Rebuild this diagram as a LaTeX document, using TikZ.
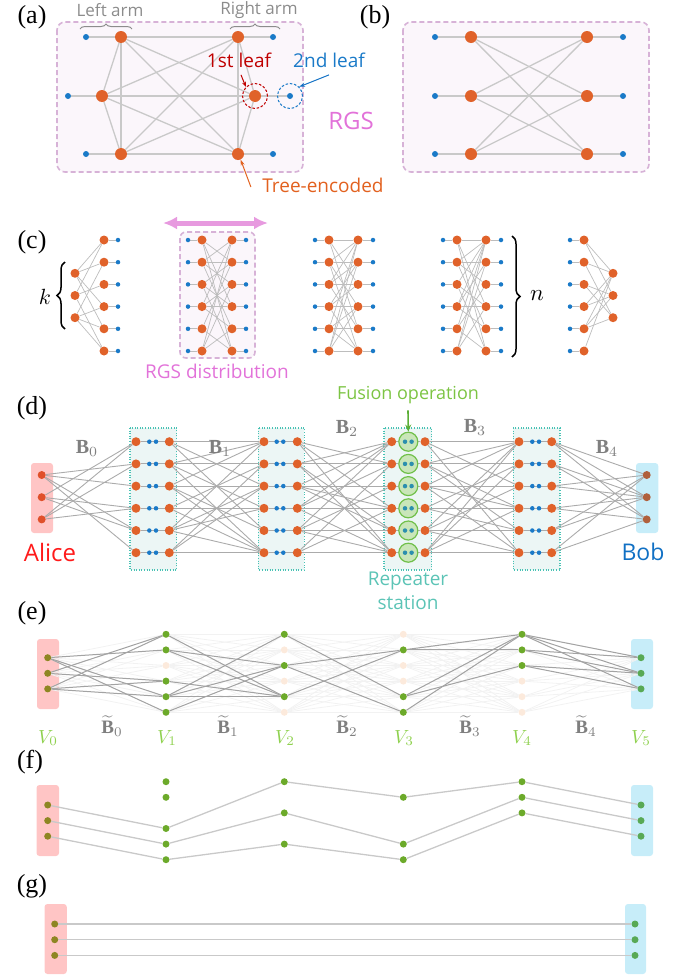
\documentclass[tikz,border=0pt]{standalone}
\usepackage{fontspec}
\setmainfont{Liberation Serif}
\newfontfamily\sansf{Open Sans}
\usetikzlibrary{arrows.meta,decorations.pathreplacing}
\pgfdeclarelayer{bg}
\pgfdeclarelayer{edges}
\pgfsetlayers{bg,edges,main}
\definecolor{cOr}{HTML}{E0622A}
\definecolor{cBl}{HTML}{1A7AC8}
\definecolor{cEa}{HTML}{C9C9C9}
\definecolor{cEc}{HTML}{BDBDBD}
\definecolor{cEd}{HTML}{ABABAB}
\definecolor{cEe}{HTML}{A3A3A3}
\definecolor{cRgsB}{HTML}{D7B2D7}
\definecolor{cRgsF}{HTML}{FBF6FB}
\definecolor{cPinkT}{HTML}{E272D9}
\definecolor{cPinkA}{HTML}{E79ADF}
\definecolor{cRedA}{HTML}{C00000}
\definecolor{cTree}{HTML}{E2611F}
\definecolor{cGray}{HTML}{8C8C8C}
\definecolor{cSt}{HTML}{48C2B4}
\definecolor{cStF}{HTML}{ECF6F5}
\definecolor{cFusF}{HTML}{C9E6B9}
\definecolor{cFusD}{HTML}{70C04A}
\definecolor{cFusT}{HTML}{7CC443}
\definecolor{cFusA}{HTML}{5AAE35}
\definecolor{cRep}{HTML}{5CC4B6}
\definecolor{cTeal}{HTML}{2C8FAE}
\definecolor{cAliceF}{HTML}{FFC5C5}
\definecolor{cBobF}{HTML}{C7EDF9}
\definecolor{cAliceT}{HTML}{FF1A1A}
\definecolor{cBobT}{HTML}{1070C4}
\definecolor{cAd}{HTML}{E0502A}
\definecolor{cBd}{HTML}{B0603C}
\definecolor{cGn}{HTML}{6CAA2A}
\definecolor{cFd}{HTML}{FCEADC}
\definecolor{cAe}{HTML}{8E8622}
\definecolor{cBe}{HTML}{58A955}
\definecolor{cV}{HTML}{8FD14F}
\definecolor{cBg}{HTML}{7F7F7F}
\newcommand\myfs[1]{\fontsize{#1}{#1}\selectfont}
\begin{document}
\begin{tikzpicture}[x=1pt,y=-1pt,
  orn/.style={circle,fill=cOr,inner sep=0pt,minimum size=#1},orn/.default=12pt,
  bln/.style={circle,fill=cBl,inner sep=0pt,minimum size=#1},bln/.default=6pt,
  tln/.style={circle,fill=cTeal,inner sep=0pt,minimum size=4.5pt},
  gnn/.style={circle,fill=cGn,inner sep=0pt,minimum size=7pt},
  fdn/.style={circle,fill=cFd,inner sep=0pt,minimum size=7pt},
  aen/.style={circle,fill=cAe,inner sep=0pt,minimum size=7pt},
  ben/.style={circle,fill=cBe,inner sep=0pt,minimum size=7pt},
  adn/.style={circle,fill=cAd,inner sep=0pt,minimum size=8pt},
  bdn/.style={circle,fill=cBd,inner sep=0pt,minimum size=8pt},
  fus/.style={circle,fill=cFusF,draw=cFusD,line width=1.2pt,inner sep=0pt,minimum size=19pt},
  ea/.style={draw=cEa,line width=1.3pt},
  ec/.style={draw=cEc,line width=0.7pt},
  ed/.style={draw=cEd,line width=0.9pt},
  ee/.style={draw=cEe,line width=1pt},
  ef/.style={draw=black!5,line width=0.8pt},
  rgsbox/.style={draw=cRgsB,dash pattern=on 5pt off 3pt,line width=1.6pt,fill=cRgsF,rounded corners=8pt},
  stbox/.style={draw=cSt,dash pattern=on 1pt off 1.6pt,line width=1.3pt,fill=cStF},
  plbl/.style={font=\myfs{26}},
  stxt/.style={font=\sansf\myfs{#1}},
  mtxt/.style={font=\myfs{10},inner sep=1pt},
  gbrace/.style={decorate,decoration={brace,amplitude=5pt},draw=cGray,line width=1pt},
  kbrace/.style={decorate,decoration={brace,amplitude=8pt},draw=black,line width=1.5pt}
]
\useasboundingbox (0,0) rectangle (696,980);

% ---------------- panel labels
\node[plbl] (la) at (32,17) {(a)};
\node[plbl] (lb) at (375,17) {(b)};
\node[plbl] (lc) at (32,242) {(c)};
\node[plbl] (ld) at (32,408) {(d)};
\node[plbl] (le) at (32,613) {(e)};
\node[plbl] (lf) at (30,762) {(f)};
\node[plbl] (lg) at (32,886) {(g)};

% ---------------- panel (a)
\begin{pgfonlayer}{bg}
\draw[rgsbox] (57,22) rectangle (303,172);
\draw[rgsbox] (403,22) rectangle (649,172);
\end{pgfonlayer}
\foreach \n/\x/\y in {a1/121/37,a2/102/96,a3/121/154,a4/238/37,a5/255/96,a6/238/154}
  \node[orn] (\n) at (\x,\y) {};
\foreach \n/\x/\y in {al1/86/37,al2/68/96,al3/86/154,ar1/273/37,ar2/290/96,ar3/273/154}
  \node[bln] (\n) at (\x,\y) {};
\begin{pgfonlayer}{edges}
\foreach \u/\v in {a1/a2,a1/a3,a1/a4,a1/a5,a1/a6,a2/a3,a2/a4,a2/a5,a2/a6,a3/a4,a3/a5,a3/a6,a4/a5,a4/a6,a5/a6,a1/al1,a2/al2,a3/al3,a4/ar1,a5/ar2,a6/ar3}
  \draw[ea] (\u) -- (\v);
\end{pgfonlayer}
\node[circle,draw=cRedA,dash pattern=on 2.5pt off 1.8pt,line width=1pt,minimum size=25pt,inner sep=0pt] (c1) at (a5) {};
\node[circle,draw=cBl,dash pattern=on 2.5pt off 1.8pt,line width=1pt,minimum size=25pt,inner sep=0pt] (c2) at (ar2) {};
\node[stxt=17,text=cGray] (tla) at (110,10) {Left arm};
\node[stxt=17,text=cGray] (tra) at (259,10) {Right arm};
\draw[gbrace] (80,29) -- (132,29);
\draw[gbrace] (230,29) -- (280,29);
\node[stxt=19,text=cRedA] (t1) at (239,60) {1st leaf};
\node[stxt=19,text=cBl] (t2) at (329,60) {2nd leaf};
\node[stxt=24,text=cPinkT] (trgs) at (351,121) {RGS};
\node[stxt=19,text=cTree] (t3) at (323,185) {Tree-encoded};
\draw[-{Stealth[length=5pt,width=4pt]},cRedA,line width=1pt] ([xshift=2pt,yshift=-4pt]t1.south) -- (c1.north west);
\draw[-{Stealth[length=6pt,width=4pt]},cBobT,line width=1pt] ([yshift=-4pt]t2.south) -- (c2.north east);
\draw[-{Stealth[length=6pt,width=4pt]},cTree,line width=1pt] ([xshift=-8pt,yshift=-2pt]t3.west) -- (a6.-65);

% ---------------- panel (b)
\foreach \j/\y in {1/37,2/96,3/154}{
  \node[orn] (bL\j) at (471,\y) {};
  \node[orn] (bR\j) at (587,\y) {};
  \node[bln] (bl\j) at (435,\y) {};
  \node[bln] (br\j) at (623,\y) {};
}
\begin{pgfonlayer}{edges}
\foreach \j in {1,2,3}{
  \draw[ea] (bl\j) -- (bL\j);
  \draw[ea] (bR\j) -- (br\j);
  \foreach \k in {1,2,3} \draw[ea] (bL\j) -- (bR\k);
}
\end{pgfonlayer}

% ---------------- panel (c)
\foreach \i in {0,...,5}{
  \pgfmathsetmacro\yy{240+22.2*\i}
  \node[orn=9pt] (c1o\i) at (104,\yy) {};
  \node[bln=4.5pt] (c1b\i) at (118,\yy) {};
  \foreach \g/\xa/\xb/\xc/\xd in {2/188/202/232/246,3/315/329/358/373,4/443/457/486/501}{
    \node[bln=4.5pt] (c\g a\i) at (\xa,\yy) {};
    \node[orn=9pt] (c\g L\i) at (\xb,\yy) {};
    \node[orn=9pt] (c\g R\i) at (\xc,\yy) {};
    \node[bln=4.5pt] (c\g d\i) at (\xd,\yy) {};
  }
  \node[bln=4.5pt] (c5b\i) at (570,\yy) {};
  \node[orn=9pt] (c5o\i) at (584,\yy) {};
}
\foreach \j in {0,1,2}{
  \pgfmathsetmacro\yy{273.3+22.2*\j}
  \node[orn=9pt] (c1k\j) at (75,\yy) {};
  \node[orn=9pt] (c5k\j) at (613,\yy) {};
}
\begin{pgfonlayer}{bg}
\draw[rgsbox,rounded corners=6pt] (180,232) rectangle (255,358);
\end{pgfonlayer}
\begin{pgfonlayer}{edges}
\foreach \i in {0,...,5}{
  \draw[ec] (c1o\i) -- (c1b\i);
  \draw[ec] (c5b\i) -- (c5o\i);
  \foreach \g in {2,3,4}{\draw[ec] (c\g a\i) -- (c\g L\i); \draw[ec] (c\g R\i) -- (c\g d\i);}
}
\foreach \a/\b in {0/0,0/1,0/3,0/4,1/0,1/2,1/5,2/1,2/3,2/4,2/5}
  \draw[ec] (c1k\a) -- (c1o\b);
\foreach \a/\b in {0/0,0/1,1/0,1/2,2/1,2/2,3/0,3/1,4/0,4/1,4/2,5/0}
  \draw[ec] (c5o\a) -- (c5k\b);
\foreach \a/\b in {0/3,0/5,1/0,1/2,1/4,2/1,2/3,2/5,3/0,3/2,3/4,4/1,4/5,5/0,5/2,5/4,1/1,3/3,0/1}
  \draw[ec] (c2L\a) -- (c2R\b);
\foreach \a/\b in {0/2,0/4,1/0,1/3,1/5,2/1,2/4,2/0,3/2,3/5,3/1,4/0,4/3,4/5,5/1,5/3,5/0,0/0,2/2,4/4,1/1,3/3,5/5}
  \draw[ec] (c3L\a) -- (c3R\b);
\foreach \a/\b in {0/0,0/3,0/5,1/2,1/4,1/0,2/0,2/5,2/3,3/1,3/0,3/4,4/2,4/5,4/0,5/1,5/3,5/0,1/1,3/3}
  \draw[ec] (c4L\a) -- (c4R\b);
\end{pgfonlayer}
\coordinate (pa1) at (163,223);
\coordinate (pa2) at (268,223);
\draw[{Latex[length=14pt,width=13pt]}-{Latex[length=14pt,width=13pt]},line width=5pt,cPinkA] (pa1) -- (pa2);
\node[stxt=19,text=cPinkT] (trd) at (217,371) {RGS distribution};
\draw[kbrace] (65,329) -- (65,262);
\node[mtxt] (tk) at (45,297) {\scalebox{2.2}{$k$}};
\draw[kbrace] (512,236) -- (512,357);
\node[mtxt] (tn) at (537,296) {\scalebox{2.3}{$n$}};

% ---------------- panel (d)
\begin{pgfonlayer}{bg}
\foreach \xa/\xb in {130/176.7,258.3/304.3,384/431.7,513.3/560}
  \draw[stbox] (\xa,428) rectangle (\xb,570);
\fill[cAliceF,rounded corners=3pt] (31,463) rectangle (53,533);
\fill[cBobF,rounded corners=3pt] (636,463) rectangle (658.3,533);
\end{pgfonlayer}
\foreach \i in {0,...,5}{
  \pgfmathsetmacro\yy{441.7+22.2*\i}
  \foreach \s/\xa/\xb/\xc/\xd in {1/136/149.3/156/169.3,2/264/276.7/283.3/297.3,4/519/532.3/539/551.7}{
    \node[orn=9pt] (d\s L\i) at (\xa,\yy) {};
    \node[bln=4.5pt] (d\s p\i) at (\xb,\yy) {};
    \node[bln=4.5pt] (d\s q\i) at (\xc,\yy) {};
    \node[orn=9pt] (d\s R\i) at (\xd,\yy) {};
  }
  \node[orn=9pt] (d3L\i) at (391.7,\yy) {};
  \node[fus] (d3c\i) at (408.3,\yy) {};
  \node[tln] (d3p\i) at (405,\yy) {};
  \node[tln] (d3q\i) at (411.6,\yy) {};
  \node[orn=9pt] (d3R\i) at (425,\yy) {};
}
\foreach \j in {0,1,2}{
  \pgfmathsetmacro\yy{475+22.2*\j}
  \node[adn] (dA\j) at (41.7,\yy) {};
  \node[bdn] (dB\j) at (646.7,\yy) {};
}
\begin{pgfonlayer}{edges}
\foreach \i in {0,...,5}{
  \foreach \s in {1,2,4} \draw[ed] (d\s L\i) -- (d\s R\i);
  \draw[ed] (d3L\i) -- (d3c\i) -- (d3R\i);
}
\foreach \a/\b in {0/1,0/2,0/4,0/5,1/0,1/3,1/4,2/0,2/1,2/3}
  \draw[ed] (dA\a) -- (d1L\b);
\foreach \a/\b in {0/2,0/4,1/1,1/3,1/5,2/0,2/2,2/4,3/1,3/5,4/0,4/3,4/5,5/5,5/1,5/2,0/0,3/3,2/5,4/2,1/0}
  \draw[ed] (d1R\a) -- (d2L\b);
\foreach \a/\b in {0/1,0/3,1/0,1/1,1/4,1/5,2/2,2/4,2/0,3/1,3/3,3/5,4/0,4/2,4/4,5/5,5/3,5/1,0/5,2/3,3/0,4/5}
  \draw[ed] (d2R\a) -- (d3L\b);
\foreach \a/\b in {0/0,0/2,0/5,1/1,1/3,1/4,2/0,2/2,2/5,3/1,3/4,3/3,4/0,4/2,4/5,5/1,5/3,5/5,1/0,2/3,4/4,5/0}
  \draw[ed] (d3R\a) -- (d4L\b);
\foreach \a/\b in {0/0,0/1,0/2,1/1,1/2,2/0,2/1,3/1,3/2,4/0,4/1,5/0,5/2}
  \draw[ed] (d4R\a) -- (dB\b);
\end{pgfonlayer}
\node[mtxt,text=cBg] (B0) at (87,448) {\scalebox{2.0}{$\mathbf{B}_0$}};
\node[mtxt,text=cBg] (B1) at (220,448) {\scalebox{2.0}{$\mathbf{B}_1$}};
\node[mtxt,text=cBg] (B2) at (347,428) {\scalebox{2.0}{$\mathbf{B}_2$}};
\node[mtxt,text=cBg] (B3) at (475,427) {\scalebox{2.0}{$\mathbf{B}_3$}};
\node[mtxt,text=cBg] (B4) at (607,448) {\scalebox{2.0}{$\mathbf{B}_4$}};
\node[stxt=18,text=cFusT] (tfus) at (408,395) {Fusion operation};
\draw[-{Stealth[length=7pt,width=6pt]},cFusA,line width=1.6pt] ([yshift=-3pt]tfus.south) -- (d3c0.north);
\node[stxt=19,text=cRep,align=center] (trep) at (408,591) {Repeater\\[5pt]station};
\node[stxt=24,text=cAliceT] (talice) at (50,552) {Alice};
\node[stxt=23,text=cBobT] (tbob) at (643,552) {Bob};

% ---------------- panel (e)
\begin{pgfonlayer}{bg}
\fill[cAliceF,rounded corners=3pt] (37,639) rectangle (59,709);
\fill[cBobF,rounded corners=3pt] (631,639) rectangle (653,709);
\end{pgfonlayer}
\foreach \c/\xx in {1/166,2/284.3,3/403.3,4/522}{
  \foreach \i in {0,...,5}{
    \pgfmathsetmacro\yy{634.3+15.6*\i}
    \node[fdn] (e\c r\i) at (\xx,\yy) {};
  }
}
\foreach \j in {0,1,2}{
  \pgfmathsetmacro\yy{657.7+15.6*\j}
  \node[aen] (eA\j) at (47.7,\yy) {};
  \node[ben] (eB\j) at (641,\yy) {};
}
\foreach \c/\i in {1/0,1/1,1/3,1/4,1/5,2/0,2/2,2/4,3/1,3/4,3/5,4/0,4/1,4/2}
  \node[gnn] (e\c g\i) at (e\c r\i) {};
\begin{pgfonlayer}{edges}
\foreach \i in {0,...,5}{
  \foreach \j in {0,1,2}{\draw[ef] (eA\j) -- (e1r\i); \draw[ef] (e4r\i) -- (eB\j);}
  \foreach \c in {1,2,3}{
    \pgfmathtruncatemacro\cn{\c+1}
    \foreach \j in {0,...,5} \draw[ef] (e\c r\i) -- (e\cn r\j);
  }
}
\foreach \a/\b in {0/1,0/4,0/5,1/0,1/3,2/0,2/3,2/4}
  \draw[ee] (eA\a) -- (e1r\b);
\foreach \a/\b in {0/4,1/2,1/4,3/4,4/0,4/2,4/4,5/2}
  \draw[ee] (e1r\a) -- (e2r\b);
\foreach \a/\b in {0/4,2/1,2/5,4/1}
  \draw[ee] (e2r\a) -- (e3r\b);
\foreach \a/\b in {1/0,1/1,4/0,4/2,5/0}
  \draw[ee] (e3r\a) -- (e4r\b);
\foreach \a/\b in {0/0,0/1,0/2,1/0,1/1,2/1,2/2}
  \draw[ee] (e4r\a) -- (eB\b);
\end{pgfonlayer}
\foreach \k/\xx in {0/48,1/167,2/285,3/404,4/522,5/641}
  \node[mtxt,text=cV] (V\k) at (\xx,738) {\scalebox{1.9}{$V_{\k}$}};
\foreach \k/\xx in {0/112,1/228,2/347,3/470,4/586}
  \node[mtxt,text=cBg] (Bt\k) at (\xx,726) {\scalebox{1.9}{$\widetilde{\mathbf{B}}_{\k}$}};

% ---------------- panel (f)
\begin{pgfonlayer}{bg}
\fill[cAliceF,rounded corners=3pt] (36.5,785) rectangle (59,856);
\fill[cBobF,rounded corners=3pt] (631,785) rectangle (653,856);
\end{pgfonlayer}
\foreach \c/\xx/\rows in {1/166/{0,1,3,4,5},2/284.3/{0,2,4},3/403.3/{1,4,5},4/522/{0,1,2}}{
  \foreach \i in \rows{
    \pgfmathsetmacro\yy{781.7+15.6*\i}
    \node[gnn] (f\c r\i) at (\xx,\yy) {};
  }
}
\foreach \j in {0,1,2}{
  \pgfmathsetmacro\yy{805+15.6*\j}
  \node[aen] (fA\j) at (47.7,\yy) {};
  \node[ben] (fB\j) at (641,\yy) {};
}
\begin{pgfonlayer}{edges}
\draw[ea] (fA0) -- (f1r3) -- (f2r0) -- (f3r1) -- (f4r0) -- (fB0);
\draw[ea] (fA1) -- (f1r4) -- (f2r2) -- (f3r4) -- (f4r1) -- (fB1);
\draw[ea] (fA2) -- (f1r5) -- (f2r4) -- (f3r5) -- (f4r2) -- (fB2);
\end{pgfonlayer}

% ---------------- panel (g)
\begin{pgfonlayer}{bg}
\fill[cAliceF,rounded corners=3pt] (44.5,904) rectangle (66.8,974);
\fill[cBobF,rounded corners=3pt] (625,904) rectangle (646,974);
\end{pgfonlayer}
\foreach \j in {0,1,2}{
  \pgfmathsetmacro\yy{924+15.7*\j}
  \node[aen] (gA\j) at (54.7,\yy) {};
  \node[ben] (gB\j) at (635,\yy) {};
}
\begin{pgfonlayer}{edges}
\foreach \j in {0,1,2} \draw[ea] (gA\j) -- (gB\j);
\end{pgfonlayer}
\end{tikzpicture}
\end{document}
